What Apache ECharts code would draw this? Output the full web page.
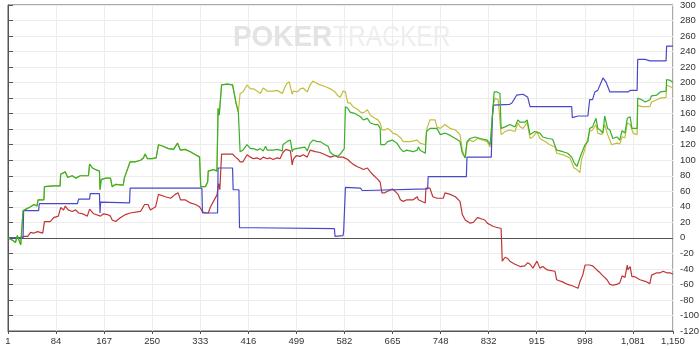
<!DOCTYPE html>
<html>
<head>
<meta charset="utf-8">
<script src="https://cdn.jsdelivr.net/npm/echarts@6/dist/echarts.min.js"></script>
<style>html,body{margin:0;padding:0;background:#fff;}#c{width:700px;height:349px;}</style>
</head>
<body>
<div id="c"></div>
<script>
// Y axis range (dollars), X axis range (hands)
const yMin = -120, yMax = 300, yStep = 20;
const handFirst = 1, handLast = 1150;
const xTickStep = 83.052; // hands between labelled ticks (1, 84, 167 ... 1,081)

// Net won (green) [hand, $]
const netWon = [[1,0],[9,-3],[14,-6],[17,3],[23,-9],[26,-9],[27,35],[32,37],[40,40],[46,43],[51,41],[53,49],[63,49],[64,66],[80,67],[91,67],[92,82],[100,85],[104,78],[112,80],[118,77],[126,80],[140,80],[142,95],[147,90],[152,88],[159,86],[160,62],[162,75],[170,77],[178,77],[181,66],[183,64],[187,69],[200,68],[202,77],[212,98],[221,98],[230,100],[235,103],[238,108],[242,102],[250,102],[257,103],[260,103],[261,120],[269,118],[278,115],[287,114],[294,122],[299,113],[307,114],[316,111],[325,107],[332,104],[334,66],[342,66],[346,72],[347,86],[356,88],[362,86],[364,167],[366,158],[369,158],[370,197],[380,198],[389,197],[395,174],[399,162],[401,162],[402,111],[407,113],[414,120],[420,115],[425,115],[432,113],[437,115],[442,112],[446,118],[449,113],[459,113],[466,114],[475,112],[476,120],[483,124],[489,126],[492,111],[494,114],[499,115],[506,116],[514,117],[518,112],[523,122],[528,126],[535,124],[540,124],[549,120],[554,118],[558,110],[563,107],[571,105],[575,108],[582,115],[583,115],[584,169],[588,167],[592,162],[601,160],[610,156],[615,152],[622,154],[627,148],[635,146],[640,146],[644,141],[645,120],[652,120],[657,124],[665,126],[673,122],[679,115],[684,111],[690,113],[701,111],[708,113],[710,117],[713,113],[722,109],[724,137],[730,141],[742,141],[748,133],[756,135],[765,132],[774,128],[782,124],[786,109],[791,103],[794,124],[799,128],[808,130],[817,128],[829,126],[834,120],[838,156],[841,188],[846,188],[851,186],[853,141],[860,143],[868,146],[877,143],[882,152],[886,149],[894,149],[898,152],[903,133],[911,137],[920,135],[925,130],[934,128],[942,127],[949,113],[960,111],[968,109],[975,104],[979,97],[984,92],[987,90],[991,107],[994,106],[998,120],[1003,124],[1006,141],[1011,143],[1017,154],[1020,141],[1024,139],[1029,135],[1032,157],[1037,141],[1041,139],[1046,128],[1053,130],[1058,126],[1062,138],[1067,135],[1071,154],[1076,156],[1079,141],[1088,141],[1089,180],[1096,178],[1102,175],[1110,178],[1113,183],[1122,184],[1128,188],[1138,189],[1139,204],[1145,203],[1150,200]];

// All-in adjusted (olive) [hand, $]
const allInAdj = [[1,0],[9,-3],[14,-6],[17,3],[23,-9],[26,-9],[27,35],[32,37],[40,40],[46,43],[51,41],[53,49],[63,49],[64,66],[80,67],[91,67],[92,82],[100,85],[104,78],[112,80],[118,77],[126,80],[140,80],[142,95],[147,90],[152,88],[159,86],[160,62],[162,75],[170,77],[178,77],[181,66],[183,64],[187,69],[200,68],[202,77],[212,98],[221,98],[230,100],[235,103],[238,108],[242,102],[250,102],[257,103],[260,103],[261,120],[269,118],[278,115],[287,114],[294,122],[299,113],[307,114],[316,111],[325,107],[332,104],[334,66],[342,66],[346,72],[347,86],[356,88],[362,86],[364,167],[366,158],[369,158],[370,197],[380,198],[389,197],[395,174],[399,162],[401,162],[402,186],[407,188],[414,197],[420,192],[425,192],[432,189],[437,186],[442,193],[449,189],[459,189],[466,190],[475,186],[480,195],[483,199],[487,201],[489,200],[492,185],[494,189],[501,188],[506,192],[511,193],[518,188],[523,197],[528,202],[535,199],[540,197],[549,195],[558,192],[566,188],[571,183],[575,181],[580,189],[584,188],[588,174],[592,174],[597,169],[604,166],[610,162],[615,161],[622,165],[627,158],[635,154],[640,152],[644,148],[647,139],[652,139],[657,141],[661,139],[666,135],[673,133],[679,129],[684,124],[696,124],[708,126],[713,122],[722,120],[725,141],[730,152],[739,152],[742,143],[748,141],[756,146],[765,141],[774,139],[782,133],[786,113],[791,103],[794,122],[799,126],[805,124],[812,128],[822,126],[829,124],[834,117],[838,158],[839,171],[843,180],[848,178],[851,176],[853,133],[860,137],[868,139],[877,137],[882,148],[886,143],[891,141],[898,149],[903,128],[908,130],[915,137],[920,128],[929,124],[937,120],[946,117],[949,109],[960,107],[972,103],[979,90],[984,88],[989,84],[992,101],[998,115],[1006,137],[1011,139],[1017,146],[1020,135],[1027,133],[1032,146],[1037,133],[1044,120],[1053,122],[1058,121],[1062,130],[1067,129],[1071,148],[1076,146],[1081,135],[1088,133],[1089,171],[1096,169],[1110,169],[1113,175],[1122,178],[1128,180],[1138,181],[1139,197],[1150,193]];

// Showdown winnings (blue) [hand, $]
const showdown = [[1,0],[27,0],[28,35],[54,35],[55,44],[121,44],[123,50],[142,50],[143,57],[159,57],[160,32],[161,46],[211,45],[212,64],[336,64],[337,32],[363,32],[364,90],[389,90],[390,62],[400,62],[401,13],[425,13],[426,12],[565,12],[566,2],[580,3],[581,9],[583,9],[584,65],[610,64],[613,61],[620,61],[622,63],[726,63],[727,79],[793,79],[794,104],[836,104],[838,158],[840,171],[868,172],[872,174],[880,184],[891,185],[899,181],[903,169],[975,169],[976,155],[986,157],[1003,157],[1006,178],[1011,178],[1015,188],[1020,190],[1029,206],[1032,206],[1034,201],[1041,188],[1072,188],[1076,190],[1088,190],[1089,230],[1102,230],[1110,228],[1138,228],[1139,247],[1150,247]];

// Non-showdown winnings (red) [hand, $]
const nonShowdown = [[1,0],[24,0],[28,2],[35,2],[36,4],[40,7],[45,6],[52,8],[61,6],[63,6],[64,21],[74,21],[80,26],[88,28],[91,28],[92,39],[97,36],[100,41],[105,36],[112,34],[118,36],[123,32],[130,31],[138,28],[142,37],[149,31],[152,30],[161,28],[166,31],[173,30],[178,28],[181,23],[187,21],[195,26],[204,30],[212,32],[230,34],[237,43],[243,43],[247,36],[256,40],[261,56],[273,53],[282,51],[290,56],[295,58],[299,49],[307,49],[316,45],[325,43],[332,40],[337,34],[342,32],[347,32],[351,40],[356,47],[362,55],[365,70],[367,62],[369,62],[370,108],[389,108],[394,104],[399,101],[402,98],[407,98],[414,107],[420,104],[425,102],[432,103],[437,101],[442,104],[449,102],[454,103],[459,101],[466,103],[471,102],[476,110],[481,114],[485,113],[489,112],[492,94],[494,101],[499,106],[506,105],[511,107],[518,104],[523,113],[532,111],[540,110],[549,107],[558,104],[566,106],[571,104],[580,104],[588,101],[592,98],[597,95],[604,92],[610,90],[615,88],[622,90],[627,85],[632,81],[639,76],[644,72],[647,58],[652,58],[657,60],[665,63],[670,60],[675,56],[679,49],[684,47],[690,49],[701,49],[708,53],[710,49],[713,47],[722,45],[723,64],[730,64],[735,53],[742,51],[753,51],[756,58],[765,56],[774,53],[782,47],[786,30],[791,23],[799,19],[805,20],[812,26],[817,25],[825,23],[829,19],[834,17],[839,15],[843,14],[853,12],[855,-30],[860,-25],[865,-27],[868,-30],[877,-34],[886,-37],[894,-36],[899,-32],[903,-34],[908,-39],[915,-30],[920,-39],[925,-37],[932,-41],[937,-42],[946,-43],[949,-54],[960,-57],[968,-60],[977,-62],[986,-65],[989,-57],[994,-48],[998,-35],[1006,-35],[1011,-36],[1018,-41],[1024,-45],[1029,-49],[1036,-54],[1041,-60],[1046,-61],[1053,-60],[1058,-58],[1062,-49],[1067,-51],[1071,-35],[1072,-41],[1076,-37],[1079,-50],[1084,-50],[1093,-54],[1102,-56],[1110,-59],[1113,-48],[1122,-45],[1128,-45],[1133,-43],[1139,-45],[1145,-45],[1150,-47]];

const toAxis = pts => pts.map(p => [p[0] - handFirst, p[1]]);

const chart = echarts.init(document.getElementById('c'), null, {renderer: 'canvas'});
const lineSeries = (name, data, color, z) => ({
  name, type: 'line', data: toAxis(data), showSymbol: false, symbol: 'none',
  lineStyle: {color, width: 1.2}, itemStyle: {color}, z, animation: false
});

chart.setOption({
  animation: false,
  backgroundColor: '#ffffff',
  textStyle: {fontFamily: '"Liberation Sans", Arial, sans-serif'},
  graphic: [
    {type: 'text', x: 233, y: 23, scaleX: 0.93, z: 1,
     style: {text: 'POKER', font: 'bold 30px "Liberation Sans"', fill: '#e3e3e3'}},
    {type: 'text', x: 333, y: 23, scaleX: 0.82, z: 1,
     style: {text: 'TRACKER', font: '30px "Liberation Sans"', fill: '#eeeeee'}}
  ],
  grid: {left: 8, right: 27, top: 5, bottom: 18, show: true, borderColor: '#555', borderWidth: 1,
         containLabel: false, outerBoundsMode: 'none'},
  xAxis: {
    type: 'value', min: 0, max: handLast - handFirst, interval: xTickStep,
    axisLine: {show: true, onZero: false, lineStyle: {color: '#555'}},
    axisTick: {show: true, length: 3, lineStyle: {color: '#555'}},
    axisLabel: {fontSize: 9.5, color: '#333', margin: 5,
      formatter: v => Math.round(v + handFirst).toLocaleString('en-US')},
    splitLine: {show: true, lineStyle: {color: '#ececec', width: 1}}
  },
  yAxis: {
    type: 'value', position: 'right', min: yMin, max: yMax, interval: yStep,
    axisLine: {show: true, lineStyle: {color: '#555'}},
    axisTick: {show: true, length: 5, lineStyle: {color: '#555'}},
    axisLabel: {fontSize: 9.5, color: '#333', margin: 7},
    splitLine: {show: true, lineStyle: {color: '#ececec', width: 1}}
  },
  series: [
    lineSeries('All-in Adj', allInAdj, '#c4bd3c', 3),
    lineSeries('Non-showdown', nonShowdown, '#c03535', 4),
    lineSeries('Showdown', showdown, '#4848c8', 5),
    Object.assign(lineSeries('Net Won', netWon, '#38b02a', 6), {
      markLine: {silent: true, symbol: 'none', label: {show: false}, animation: false,
        lineStyle: {color: '#555', width: 1, type: 'solid'}, data: [{yAxis: 0}]}
    })
  ]
});
</script>
</body>
</html>
